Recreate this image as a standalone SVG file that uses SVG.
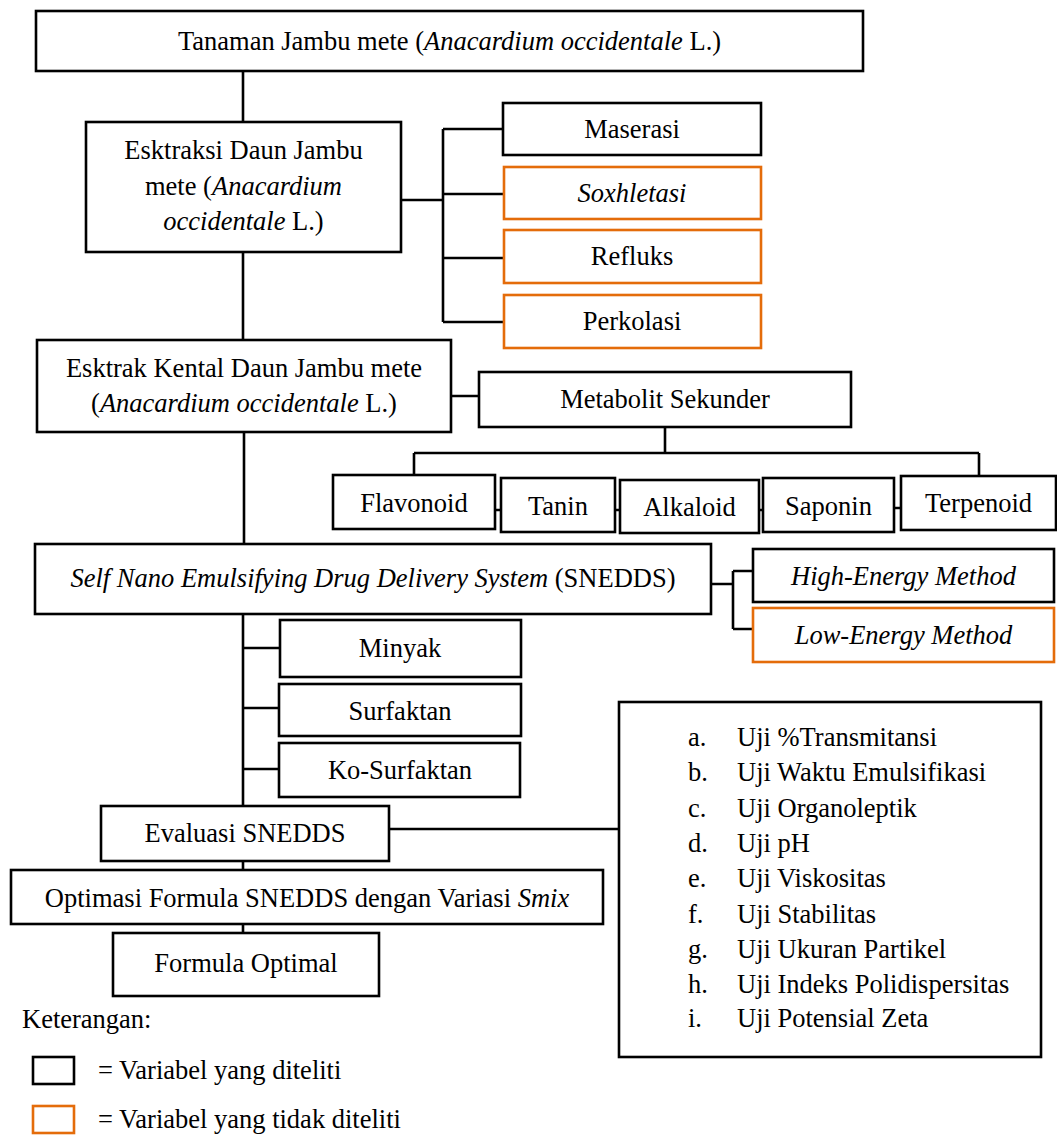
<svg xmlns="http://www.w3.org/2000/svg" width="1057" height="1135" viewBox="0 0 1057 1135">
<style>
  .b { fill: #fff; stroke: #000; stroke-width: 2.6; }
  .o { fill: #fff; stroke: #E46C0A; stroke-width: 2.6; }
  .c { fill: none; stroke: #000; stroke-width: 2.6; }
  text { font-family: "Liberation Serif", "Times New Roman", serif; font-size: 26.5px; fill: #000; }
  .m { text-anchor: middle; }
  .i { font-style: italic; }
</style>
<rect width="1057" height="1135" fill="#fff"/>
<g id="connectors">
  <path class="c" d="M243 71V122 M243 252V340 M244 432V544 M243 614V806 M243 861V870 M243 924V933"/>
  <path class="c" d="M401 200H443 M443 129V322 M443 129H503 M443 194H503 M443 258H503 M443 322H503"/>
  <path class="c" d="M451 396H479 M665 427V453 M414 453H979 M414 453V475 M979 453V476"/>
  <path class="c" d="M495 510H501 M615 510H620 M759 510H763 M894 508H901"/>
  <path class="c" d="M711 584H733 M733 571V629 M733 571H753 M733 629H753"/>
  <path class="c" d="M243 648H280 M243 708H279 M243 769H279"/>
  <path class="c" d="M389 829H629"/>
</g>
<g id="n-tanaman">
  <rect class="b" x="36" y="11" width="827" height="60"/>
  <text class="m" x="449.5" y="50">Tanaman Jambu mete (<tspan class="i">Anacardium occidentale</tspan> L.)</text>
</g>
<g id="n-ekstraksi">
  <rect class="b" x="86" y="122" width="315" height="130"/>
  <text class="m" x="243.5" y="159">Esktraksi Daun Jambu</text>
  <text class="m" x="243.5" y="195">mete (<tspan class="i">Anacardium</tspan></text>
  <text class="m" x="243.5" y="230"><tspan class="i">occidentale</tspan> L.)</text>
</g>
<g id="n-maserasi">
  <rect class="b" x="503" y="103" width="258" height="52"/>
  <text class="m" x="632" y="138">Maserasi</text>
</g>
<g id="n-soxhletasi">
  <rect class="o" x="504" y="167" width="257" height="52"/>
  <text class="m i" x="632" y="202">Soxhletasi</text>
</g>
<g id="n-refluks">
  <rect class="o" x="504" y="230" width="257" height="53"/>
  <text class="m" x="632" y="265">Refluks</text>
</g>
<g id="n-perkolasi">
  <rect class="o" x="504" y="295" width="257" height="53"/>
  <text class="m" x="632" y="330">Perkolasi</text>
</g>
<g id="n-ekstrak-kental">
  <rect class="b" x="37" y="340" width="414" height="92"/>
  <text class="m" x="244" y="377">Esktrak Kental Daun Jambu mete</text>
  <text class="m" x="244" y="412">(<tspan class="i">Anacardium occidentale</tspan> L.)</text>
</g>
<g id="n-metabolit">
  <rect class="b" x="479" y="372" width="372" height="55"/>
  <text class="m" x="665" y="408">Metabolit Sekunder</text>
</g>
<g id="n-flavonoid">
  <rect class="b" x="333" y="475" width="162" height="54"/>
  <text class="m" x="414" y="512">Flavonoid</text>
</g>
<g id="n-tanin">
  <rect class="b" x="501" y="478" width="114" height="54"/>
  <text class="m" x="558" y="515">Tanin</text>
</g>
<g id="n-alkaloid">
  <rect class="b" x="620" y="480" width="139" height="53"/>
  <text class="m" x="689.5" y="516">Alkaloid</text>
</g>
<g id="n-saponin">
  <rect class="b" x="763" y="478" width="131" height="54"/>
  <text class="m" x="828.5" y="515">Saponin</text>
</g>
<g id="n-terpenoid">
  <rect class="b" x="901" y="476" width="155" height="54"/>
  <text class="m" x="978.5" y="512">Terpenoid</text>
</g>
<g id="n-snedds">
  <rect class="b" x="35" y="544" width="676" height="70"/>
  <text class="m" x="373" y="587"><tspan class="i">Self Nano Emulsifying Drug Delivery System</tspan> (SNEDDS)</text>
</g>
<g id="n-high">
  <rect class="b" x="753" y="549" width="301" height="53"/>
  <text class="m i" x="903.5" y="585">High-Energy Method</text>
</g>
<g id="n-low">
  <rect class="o" x="753" y="608" width="301" height="54"/>
  <text class="m i" x="903.5" y="644">Low-Energy Method</text>
</g>
<g id="n-minyak">
  <rect class="b" x="280" y="620" width="241" height="57"/>
  <text class="m" x="400" y="657">Minyak</text>
</g>
<g id="n-surfaktan">
  <rect class="b" x="279" y="684" width="242" height="52"/>
  <text class="m" x="400" y="720">Surfaktan</text>
</g>
<g id="n-kosurfaktan">
  <rect class="b" x="279" y="743" width="241" height="54"/>
  <text class="m" x="400" y="779">Ko-Surfaktan</text>
</g>
<g id="n-evaluasi">
  <rect class="b" x="101" y="806" width="288" height="55"/>
  <text class="m" x="245" y="842">Evaluasi SNEDDS</text>
</g>
<g id="n-uji">
  <rect class="b" x="619" y="702" width="422" height="355"/>
  <text x="688" y="746">a.</text><text x="737" y="746">Uji %Transmitansi</text>
  <text x="688" y="781">b.</text><text x="737" y="781">Uji Waktu Emulsifikasi</text>
  <text x="688" y="817">c.</text><text x="737" y="817">Uji Organoleptik</text>
  <text x="688" y="852">d.</text><text x="737" y="852">Uji pH</text>
  <text x="688" y="887">e.</text><text x="737" y="887">Uji Viskositas</text>
  <text x="688" y="923">f.</text><text x="737" y="923">Uji Stabilitas</text>
  <text x="688" y="958">g.</text><text x="737" y="958">Uji Ukuran Partikel</text>
  <text x="688" y="993">h.</text><text x="737" y="993">Uji Indeks Polidispersitas</text>
  <text x="688" y="1027">i.</text><text x="737" y="1027">Uji Potensial Zeta</text>
</g>
<g id="n-optimasi">
  <rect class="b" x="11" y="870" width="592" height="54"/>
  <text class="m" x="307" y="907">Optimasi Formula SNEDDS dengan Variasi <tspan class="i">Smix</tspan></text>
</g>
<g id="n-formula">
  <rect class="b" x="113" y="933" width="266" height="63"/>
  <text class="m" x="246" y="972">Formula Optimal</text>
</g>
<g id="legend">
  <text x="22" y="1028">Keterangan:</text>
  <rect class="b" x="33" y="1057" width="41" height="27"/>
  <text x="98" y="1079">= Variabel yang diteliti</text>
  <rect class="o" x="33" y="1106" width="41" height="27"/>
  <text x="98" y="1128">= Variabel yang tidak diteliti</text>
</g>
</svg>
